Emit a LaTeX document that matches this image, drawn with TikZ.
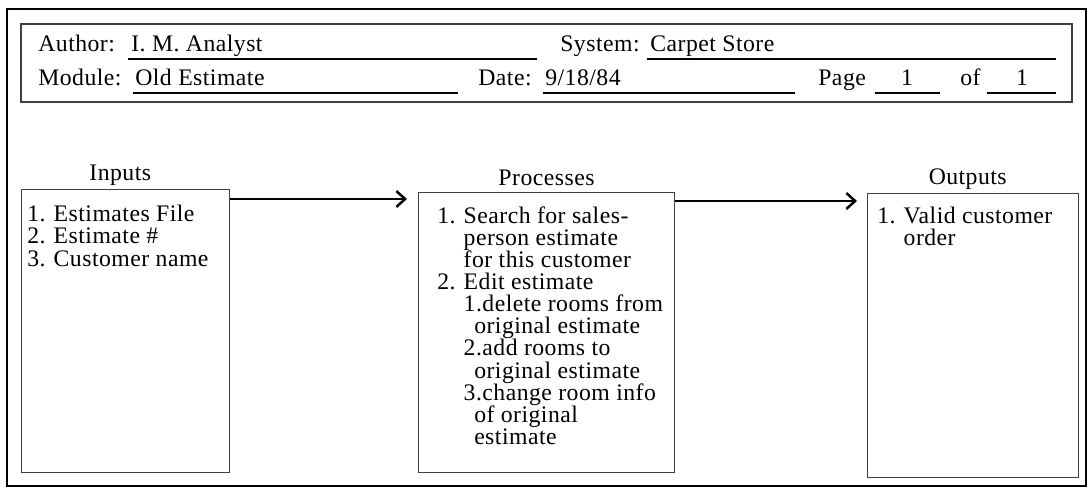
\documentclass[tikz,border=0pt]{standalone}
\usepackage{fontspec}
\setmainfont{Liberation Serif}[LetterSpace=2]
\usepackage{tikz}
\usetikzlibrary{calc, positioning, arrows.meta}

\newcommand{\itm}[1]{\makebox[15pt][l]{#1}}

\begin{document}
\begin{tikzpicture}[x=0.02cm, y=-0.02cm, >={Straight Barb[length=5pt, width=9pt]},
    font=\fontsize{13.5}{12.6}\selectfont,
    panel/.style={draw=black!75, line width=0.6pt, inner sep=0pt, anchor=north west},
    listtext/.style={anchor=north west, inner sep=0pt, align=left},
    colhead/.style={inner sep=0pt},
    field/.style={anchor=base west, inner sep=0pt},
    fieldline/.style={line width=0.6pt},
    flow/.style={->, line width=1.4pt}]
  \useasboundingbox (0,0) rectangle (1089,493);

  % frames
  \draw[line width=0.9pt] (7,9) rectangle (1086,486);
  \draw[draw=black!75, line width=0.6pt] (21,24) rectangle (1072,102);

  % header fields
  \node[field] (authlbl) at (38,52) {Author:};
  \node[field] (authval) at (131,52) {I. M. Analyst};
  \node[field] (syslbl) at (560,52) {System:};
  \node[field] (sysval) at (650,52) {Carpet Store};
  \node[field] (modlbl) at (38,86) {Module:};
  \node[field] (modval) at (135,86) {Old Estimate};
  \node[field] (datelbl) at (478,86) {Date:};
  \node[field] (dateval) at (545,86) {9/18/84};
  \node[field] (pagelbl) at (818,86) {Page};
  \node[field, anchor=base] (pageval) at (907,86) {1};
  \node[field] (oflbl) at (960,86) {of};
  \node[field, anchor=base] (ofval) at (1022,86) {1};
  \draw[fieldline] (128,59) -- (537,59);
  \draw[fieldline] (647,59) -- (1056,59);
  \draw[fieldline] (133,93) -- (458,93);
  \draw[fieldline] (543,93) -- (795,93);
  \draw[fieldline] (875,93) -- (940,93);
  \draw[fieldline] (987,93) -- (1056,93);

  % the three columns
  \node[panel, minimum width=4.16cm, minimum height=5.66cm] (inbox) at (21,189) {};
  \node[panel, minimum width=5.12cm, minimum height=5.6cm] (procbox) at (418,192) {};
  \node[panel, minimum width=4.22cm, minimum height=5.68cm] (outbox) at (867,193) {};

  \node[colhead, above=0.6mm of inbox, xshift=-3pt] (inhead) {Inputs};
  \node[colhead, above=1.2mm of procbox] (prochead) {Processes};
  \node[colhead, above=0.7mm of outbox, xshift=-3pt] (outhead) {Outputs};

  \node[listtext] (intext) at (27,205) {\itm{1.}Estimates File\\
    \itm{2.}Estimate \#\\
    \itm{3.}Customer name};
  \node[listtext] (proctext) at (437,206) {\itm{1.}Search for sales-\\
    \hspace*{15pt}person estimate\\
    \hspace*{15pt}for this customer\\
    \itm{2.}Edit estimate\\
    \hspace*{15pt}1.delete rooms from\\
    \hspace*{21pt}original estimate\\
    \hspace*{15pt}2.add rooms to\\
    \hspace*{21pt}original estimate\\
    \hspace*{15pt}3.change room info\\
    \hspace*{21pt}of original\\
    \hspace*{21pt}estimate};
  \node[listtext] (outtext) at (877,207) {\itm{1.}Valid customer\\
    \hspace*{15pt}order};

  % data flow
  \coordinate (a1) at ($(inbox.north east)+(0,10)$);
  \coordinate (a2) at ($(procbox.north east)+(0,9)$);
  \draw[flow] (a1) -- ($(a1 -| procbox.west)+(-11,0)$);
  \draw[flow] (a2) -- ($(a2 -| outbox.west)+(-10,0)$);
\end{tikzpicture}
\end{document}
